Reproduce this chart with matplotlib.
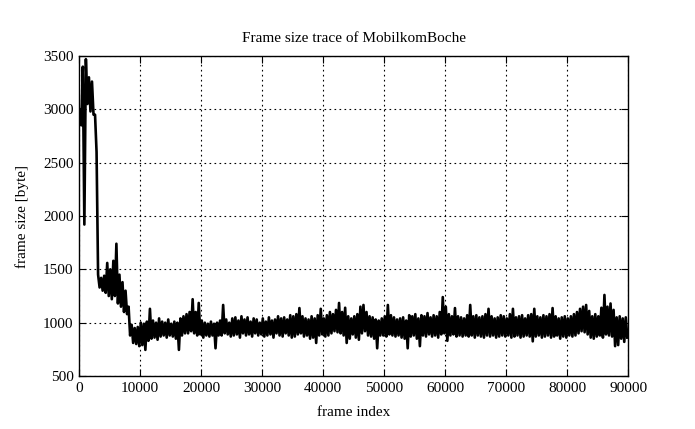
import numpy as np
import matplotlib
matplotlib.use("Agg")
import matplotlib.pyplot as plt

plt.rcParams['font.family'] = ['Liberation Serif', 'DejaVu Serif']

# frame size trace as (high, low) per 500-frame bin
bin_size = 500
hi = [3000, 3400, 3470, 3300, 3260, 2950, 1450, 1420, 1440, 1560,
      1500, 1580, 1740, 1450, 1380, 1300, 1150, 980, 950, 960,
      1000, 990, 1010, 1130, 1020, 1000, 1040, 1010, 1000, 1030,
      990, 1010, 1000, 1040, 1060, 1080, 1100, 1220, 1100, 1185,
      1020, 1000, 990, 1010, 990, 1000, 1020, 1166, 1030, 1000,
      1040, 1050, 1020, 1060, 1030, 1050, 1010, 1040, 1030, 1000,
      1040, 1010, 1050, 1020, 1030, 1060, 1040, 1050, 1030, 1070,
      1060, 1080, 1137, 1060, 1040, 1030, 1060, 1040, 1070, 1130,
      1040, 1070, 1100, 1080, 1120, 1185, 1100, 1140, 1060, 1040,
      1060, 1080, 1150, 1166, 1100, 1060, 1050, 1030, 1020, 1040,
      1060, 1166, 1070, 1050, 1030, 1040, 1050, 1020, 1070, 1060,
      1080, 1040, 1070, 1060, 1090, 1050, 1070, 1060, 1100, 1240,
      1150, 1080, 1060, 1137, 1060, 1050, 1040, 1070, 1166, 1060,
      1070, 1050, 1060, 1080, 1130, 1060, 1040, 1050, 1070, 1060,
      1040, 1080, 1130, 1050, 1060, 1070, 1040, 1070, 1080, 1130,
      1060, 1050, 1070, 1060, 1080, 1137, 1060, 1040, 1050, 1060,
      1040, 1060, 1080, 1100, 1130, 1150, 1166, 1110, 1060, 1080,
      1060, 1140, 1260, 1150, 1180, 1120, 1050, 1060, 1040, 1050]
lo = [2850, 1920, 3050, 2980, 2950, 2600, 1330, 1300, 1280, 1250,
      1220, 1250, 1180, 1150, 1100, 1080, 880, 810, 800, 780,
      790, 745, 830, 850, 860, 840, 870, 880, 860, 880,
      870, 850, 745, 880, 900, 900, 920, 900, 880, 890,
      860, 880, 870, 880, 760, 880, 880, 900, 890, 870,
      880, 890, 860, 900, 880, 890, 870, 900, 880, 890,
      870, 880, 890, 860, 900, 880, 870, 900, 880, 860,
      870, 890, 900, 870, 880, 850, 860, 810, 880, 890,
      870, 880, 900, 920, 910, 900, 880, 810, 850, 890,
      860, 840, 900, 920, 880, 870, 850, 760, 880, 880,
      870, 890, 880, 870, 880, 860, 850, 760, 870, 880,
      850, 780, 880, 870, 890, 870, 880, 860, 890, 900,
      830, 880, 890, 870, 880, 870, 880, 870, 880, 860,
      880, 870, 860, 880, 870, 880, 860, 870, 880, 870,
      880, 860, 870, 880, 860, 870, 880, 870, 825, 870,
      880, 860, 870, 880, 860, 870, 880, 850, 870, 860,
      880, 870, 880, 900, 920, 910, 890, 860, 850, 870,
      880, 860, 890, 880, 870, 780, 790, 850, 820, 860]

x_ticks = [0, 10000, 20000, 30000, 40000, 50000, 60000, 70000, 80000, 90000]
y_ticks = [500, 1000, 1500, 2000, 2500, 3000, 3500]

# interleave high/low inside each bin so the trace reads as a dense band
start = np.arange(len(hi)) * bin_size
x = np.column_stack([start + bin_size * 0.25, start + bin_size * 0.75]).ravel()
y = np.column_stack([hi, lo]).ravel()

fig = plt.figure(figsize=(6.95, 4.29), dpi=100)
ax = fig.add_axes([0.1137, 0.1235, 0.79, 0.746])

ax.plot(x, y, color='black', lw=1.9)

ax.set_xlim(0, 90000)
ax.set_ylim(500, 3500)
ax.set_xticks(x_ticks)
ax.set_yticks(y_ticks)
ax.grid(True, color='black', ls=(0, (1.5, 3)), lw=0.8)
ax.tick_params(direction='in', top=True, right=True, length=5, labelsize=11, pad=4)
for s in ax.spines.values():
    s.set_linewidth(1)

ax.set_title('Frame size trace of MobilkomBoche', fontsize=11, pad=10)
ax.set_xlabel('frame index', fontsize=11, labelpad=8)
ax.set_ylabel('frame size [byte]', fontsize=11, labelpad=10)

fig.savefig('out.png', dpi=100)
